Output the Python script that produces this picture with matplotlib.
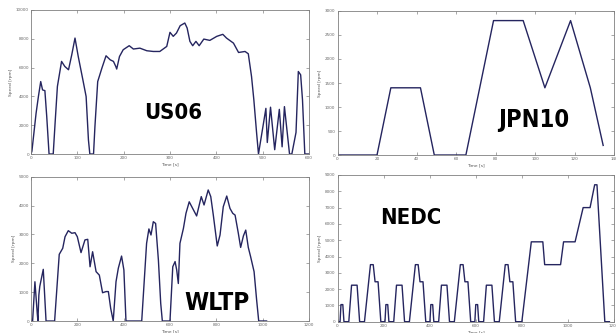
import matplotlib
matplotlib.use('Agg')
import matplotlib.pyplot as plt
from matplotlib import font_manager
from matplotlib.font_manager import FontProperties

# Ciclos de conducción (tiempo en s, velocidad en rpm)
us06_t = [0, 2, 11, 16, 21, 25, 30, 34, 39, 48, 52, 57, 66, 73, 81, 88, 95, 102, 112, 119,
          124, 127, 135, 138, 144, 153, 162, 171, 178, 183, 185, 191, 199, 212, 221, 235,
          250, 264, 278, 293, 300, 307, 314, 322, 332, 337, 343, 349, 356, 363, 373, 386,
          401, 414, 422, 437, 448, 462, 469, 476, 481, 487, 491, 507, 510, 517, 526, 536,
          542, 547, 558, 563, 572, 577, 582, 586, 591, 600]
us06_v = [0, 200, 2830, 3990, 5030, 4450, 4400, 2600, 0, 0, 2130, 4690, 6430, 6080, 5850,
          6890, 8050, 6770, 5150, 3990, 975, 0, 0, 1900, 5030, 5960, 6820, 6540, 6430, 6080,
          5900, 6770, 7240, 7520, 7290, 7350, 7170, 7120, 7120, 7470, 8450, 8170, 8400, 8910,
          9095, 8750, 7820, 7520, 7820, 7520, 7980, 7890, 8170, 8310, 8050, 7700, 7050, 7120,
          6960, 5380, 3760, 1440, 0, 3170, 800, 3250, 300, 3100, 500, 3290, 0, 0, 1500, 5730,
          5500, 3760, 0, 0]

jpn10_t = [0, 20, 27, 42, 49, 65, 79, 94, 105, 118, 128, 134.5]
jpn10_v = [0, 0, 1400, 1400, 0, 0, 2800, 2800, 1400, 2800, 1400, 200]

wltp_t = [0, 7, 17, 27, 30, 34, 38, 53, 65, 102, 122, 137, 147, 161, 176, 190, 200, 216,
          233, 245, 255, 266, 281, 295, 309, 324, 334, 344, 355, 367, 377, 391, 401, 410,
          478, 499, 509, 518, 528, 538, 550, 560, 567, 600, 612, 622, 629, 636, 643, 658,
          669, 683, 698, 715, 735, 747, 765, 776, 787, 804, 816, 830, 845, 859, 871, 881,
          895, 905, 917, 927, 938, 948, 963, 974, 983, 1017]
wltp_v = [0, 0, 1360, 270, 0, 900, 1200, 1790, 0, 0, 2310, 2520, 2920, 3130, 3040, 3060,
          2920, 2370, 2810, 2830, 1880, 2400, 1710, 1590, 980, 1020, 1020, 440, 0, 1360,
          1830, 2250, 1770, 0, 0, 2690, 3190, 2980, 3440, 3380, 2110, 610, 0, 0, 1880, 2060,
          1770, 1300, 2690, 3210, 3730, 4130, 3900, 3640, 4310, 4020, 4540, 4310, 3670, 2600,
          2980, 3960, 4330, 3900, 3730, 3670, 3040, 2550, 2950, 3150, 2550, 2230, 1710, 730,
          0, 0]

nedc_t = [0, 11, 15, 23, 28, 49, 61, 85, 96, 117, 143, 155, 163, 176, 188,
          206, 210, 218, 223, 244, 256, 280, 291, 312, 338, 350, 358, 371, 383,
          401, 405, 413, 418, 439, 451, 475, 486, 507, 533, 545, 553, 566, 578,
          596, 600, 608, 613, 634, 646, 670, 681, 702, 728, 740, 748, 761, 773,
          800, 841, 891, 899, 968, 981, 1031, 1066, 1096, 1116, 1126, 1160, 1180]
nedc_v = [0, 0, 1050, 1050, 0, 0, 2240, 2240, 0, 0, 3500, 3500, 2450, 2450, 0,
          0, 1050, 1050, 0, 0, 2240, 2240, 0, 0, 3500, 3500, 2450, 2450, 0,
          0, 1050, 1050, 0, 0, 2240, 2240, 0, 0, 3500, 3500, 2450, 2450, 0,
          0, 1050, 1050, 0, 0, 2240, 2240, 0, 0, 3500, 3500, 2450, 2450, 0,
          0, 4900, 4900, 3500, 3500, 4900, 4900, 7000, 7000, 8400, 8400, 0, 0]

# rótulos grandes: texto, centro x, línea base y, ancho (px)
etiquetas = [('US06', 173, 119, 58), ('JPN10', 533.5, 126.5, 71),
             ('NEDC', 411, 223.5, 61), ('WLTP', 216.5, 310.5, 65)]

LINE_COLOR = '#25255f'


def fuente_estrecha():
    # busca una negrita estrecha/condensada; si no hay, Liberation Sans Bold
    fuentes = font_manager.fontManager.ttflist
    for f in fuentes:
        if f.name == 'Liberation Sans Narrow' and f.weight in (700, 'bold'):
            return FontProperties(fname=f.fname)
    for f in fuentes:
        if 'condensed' in str(f.stretch) and f.weight in (700, 'bold') and 'Oblique' not in f.fname:
            return FontProperties(fname=f.fname)
    return FontProperties(family='Liberation Sans', weight='bold')


def panel(fig, rect, t, v, xlim, xstep, ylim, ystep):
    ax = fig.add_axes(rect)
    ax.plot(t, v, color=LINE_COLOR, lw=1.0)
    ax.set_xlim(*xlim)
    ax.set_ylim(*ylim)
    ax.set_xticks(range(xlim[0], xlim[1] + 1, xstep))
    ax.set_yticks(range(ylim[0], ylim[1] + 1, ystep))
    ax.tick_params(direction='in', top=True, right=True, length=2, width=0.4,
                   labelsize=3, colors='#666666', pad=1.5)
    for s in ax.spines.values():
        s.set_color('#808080')
        s.set_linewidth(0.6)
    ax.set_ylabel('Speed [rpm]', fontsize=3.2, color='#555555', labelpad=2)
    ax.set_xlabel('Time [s]', fontsize=3.2, color='#555555', labelpad=1.5)
    return ax


fig = plt.figure(figsize=(6.16, 3.33), dpi=100)

panel(fig, [0.0503, 0.5375, 0.4513, 0.4325], us06_t, us06_v, (0, 600), 100, (0, 10000), 2000)
panel(fig, [0.5479, 0.5345, 0.4489, 0.4325], jpn10_t, jpn10_v, (0, 140), 20, (0, 3000), 500)
panel(fig, [0.0503, 0.0360, 0.4513, 0.4334], wltp_t, wltp_v, (0, 1200), 200, (0, 5000), 1000)
panel(fig, [0.5479, 0.0339, 0.4489, 0.4406], nedc_t, nedc_v, (0, 1200), 200, (0, 9000), 1000)

fp = fuente_estrecha()
renderer = fig.canvas.get_renderer()
for texto, x, y, ancho in etiquetas:
    txt = fig.text(x / 616, 1 - y / 333, texto, ha='center', va='baseline',
                   fontproperties=fp, fontsize=20, color='black')
    medido = txt.get_window_extent(renderer).width
    txt.set_fontsize(20 * ancho / medido)

fig.savefig('out.png', dpi=100)
